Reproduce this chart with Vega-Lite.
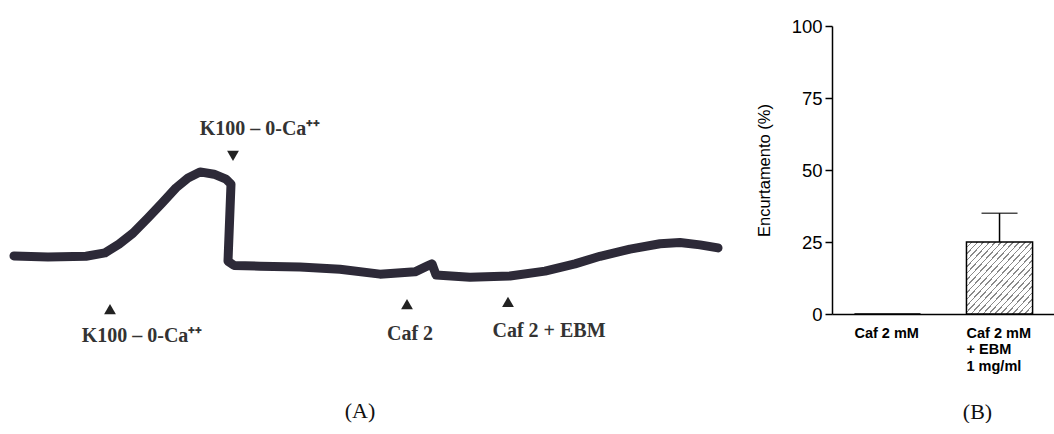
{
  "$schema": "https://vega.github.io/schema/vega-lite/v6.json",
  "background": "white",
  "padding": {"left": 0, "top": 17, "right": 0, "bottom": 0},
  "config": {"view": {"stroke": null}},
  "spacing": 16,
  "datasets": {
    "trace": [
      {"i": 1, "t": 0.7, "v": 37.4},
      {"i": 2, "t": 2.4, "v": 37.1},
      {"i": 3, "t": 4.3, "v": 37.3},
      {"i": 4, "t": 5.25, "v": 38.2},
      {"i": 5, "t": 5.95, "v": 40.5},
      {"i": 6, "t": 6.65, "v": 43.4},
      {"i": 7, "t": 7.4, "v": 47.4},
      {"i": 8, "t": 8.1, "v": 51.3},
      {"i": 9, "t": 8.8, "v": 55.3},
      {"i": 10, "t": 9.4, "v": 57.9},
      {"i": 11, "t": 10.0, "v": 59.5},
      {"i": 12, "t": 10.7, "v": 58.9},
      {"i": 13, "t": 11.3, "v": 57.6},
      {"i": 14, "t": 11.55, "v": 56.3},
      {"i": 15, "t": 11.4, "v": 36.0},
      {"i": 16, "t": 11.7, "v": 34.9},
      {"i": 17, "t": 13.0, "v": 34.7},
      {"i": 18, "t": 15.0, "v": 34.5},
      {"i": 19, "t": 17.0, "v": 33.9},
      {"i": 20, "t": 19.0, "v": 32.6},
      {"i": 21, "t": 20.75, "v": 33.2},
      {"i": 22, "t": 21.35, "v": 34.7},
      {"i": 23, "t": 21.6, "v": 35.3},
      {"i": 24, "t": 21.8, "v": 32.4},
      {"i": 25, "t": 23.5, "v": 31.8},
      {"i": 26, "t": 25.5, "v": 32.1},
      {"i": 27, "t": 27.25, "v": 33.4},
      {"i": 28, "t": 28.75, "v": 35.3},
      {"i": 29, "t": 30.0, "v": 37.3},
      {"i": 30, "t": 31.5, "v": 39.2},
      {"i": 31, "t": 33.0, "v": 40.6},
      {"i": 32, "t": 34.0, "v": 40.9},
      {"i": 33, "t": 35.0, "v": 40.3},
      {"i": 34, "t": 35.9, "v": 39.5}
    ],
    "markers": [
      {"t": 11.65, "v": 63.7, "dir": "down"},
      {"t": 5.5, "v": 23.4, "dir": "up"},
      {"t": 20.35, "v": 24.7, "dir": "up"},
      {"t": 25.4, "v": 25.3, "dir": "up"}
    ],
    "notes": [
      {"t": 13.0, "v": 70.8, "label": "K100 – 0-Ca⁺⁺"},
      {"t": 7.1, "v": 16.3, "label": "K100 – 0-Ca⁺⁺"},
      {"t": 20.5, "v": 16.8, "label": "Caf 2"},
      {"t": 27.45, "v": 17.6, "label": "Caf 2 + EBM"}
    ],
    "bars": [
      {"cond": "Caf 2 mM", "mean": 0, "upper": null},
      {"cond": "Caf 2 mM + EBM 1 mg/ml", "mean": 25, "upper": 35}
    ]
  },
  "hconcat": [
    {
      "width": 740,
      "height": 370,
      "title": {"text": "(A)", "orient": "bottom", "font": "Liberation Serif", "fontSize": 22, "fontWeight": "normal", "color": "#111", "dx": -10, "offset": 5},
      "layer": [
        {
          "data": {"name": "trace"},
          "mark": {"type": "line", "color": "#2d2a38", "strokeWidth": 9, "strokeCap": "round", "strokeJoin": "round"},
          "encoding": {
            "x": {"field": "t", "type": "quantitative", "scale": {"domain": [0, 37], "nice": false, "zero": false}, "axis": null},
            "y": {"field": "v", "type": "quantitative", "scale": {"domain": [0.53, 97.9], "nice": false, "zero": false}, "axis": null},
            "order": {"field": "i"}
          }
        },
        {
          "data": {"name": "markers"},
          "mark": {"type": "point", "filled": true, "color": "#222", "size": 140, "opacity": 1},
          "encoding": {
            "x": {"field": "t", "type": "quantitative"},
            "y": {"field": "v", "type": "quantitative"},
            "shape": {"field": "dir", "type": "nominal", "scale": {"domain": ["up", "down"], "range": ["triangle-up", "triangle-down"]}, "legend": null}
          }
        },
        {
          "data": {"name": "notes"},
          "mark": {"type": "text", "font": "Liberation Serif", "fontSize": 20, "fontWeight": "bold", "color": "#333", "baseline": "middle", "align": "center"},
          "encoding": {
            "x": {"field": "t", "type": "quantitative"},
            "y": {"field": "v", "type": "quantitative"},
            "text": {"field": "label"}
          }
        }
      ]
    },
    {
      "width": 223,
      "height": 288,
      "data": {"name": "bars"},
      "title": {"text": "(B)", "orient": "bottom", "font": "Liberation Serif", "fontSize": 22, "fontWeight": "normal", "color": "#111", "dx": 34, "offset": 29},
      "encoding": {
        "x": {
          "field": "cond", "type": "nominal", "sort": null,
          "scale": {"paddingInner": 0.41, "paddingOuter": 0.2},
          "axis": {
            "title": null, "ticks": false, "domainColor": "#000", "domainWidth": 1.5,
            "labelAngle": 0, "labelAlign": "left", "labelOffset": -33, "labelBaseline": "top",
            "labelPadding": 12, "labelFont": "Liberation Sans", "labelFontSize": 14.5, "labelFontWeight": "bold",
            "labelColor": "#000", "labelLineHeight": 16.5,
            "labelExpr": "datum.label == 'Caf 2 mM' ? datum.label : ['Caf 2 mM', '+ EBM', '1 mg/ml']"
          }
        }
      },
      "layer": [
        {
          "mark": {
            "type": "bar", "stroke": "#000", "strokeWidth": 1.5,
            "fill": {
              "x1": 0, "y1": 0, "x2": 1, "y2": 1, "gradient": "linear",
              "stops": [
                {"offset": 0.0, "color": "#ffffff"}, {"offset": 0.034, "color": "#ffffff"}, {"offset": 0.034, "color": "#8a8a8a"}, {"offset": 0.045, "color": "#8a8a8a"},
                {"offset": 0.045, "color": "#ffffff"}, {"offset": 0.079, "color": "#ffffff"}, {"offset": 0.079, "color": "#8a8a8a"}, {"offset": 0.090, "color": "#8a8a8a"},
                {"offset": 0.090, "color": "#ffffff"}, {"offset": 0.124, "color": "#ffffff"}, {"offset": 0.124, "color": "#8a8a8a"}, {"offset": 0.135, "color": "#8a8a8a"},
                {"offset": 0.135, "color": "#ffffff"}, {"offset": 0.169, "color": "#ffffff"}, {"offset": 0.169, "color": "#8a8a8a"}, {"offset": 0.180, "color": "#8a8a8a"},
                {"offset": 0.180, "color": "#ffffff"}, {"offset": 0.214, "color": "#ffffff"}, {"offset": 0.214, "color": "#8a8a8a"}, {"offset": 0.225, "color": "#8a8a8a"},
                {"offset": 0.225, "color": "#ffffff"}, {"offset": 0.259, "color": "#ffffff"}, {"offset": 0.259, "color": "#8a8a8a"}, {"offset": 0.270, "color": "#8a8a8a"},
                {"offset": 0.270, "color": "#ffffff"}, {"offset": 0.304, "color": "#ffffff"}, {"offset": 0.304, "color": "#8a8a8a"}, {"offset": 0.315, "color": "#8a8a8a"},
                {"offset": 0.315, "color": "#ffffff"}, {"offset": 0.349, "color": "#ffffff"}, {"offset": 0.349, "color": "#8a8a8a"}, {"offset": 0.360, "color": "#8a8a8a"},
                {"offset": 0.360, "color": "#ffffff"}, {"offset": 0.394, "color": "#ffffff"}, {"offset": 0.394, "color": "#8a8a8a"}, {"offset": 0.405, "color": "#8a8a8a"},
                {"offset": 0.405, "color": "#ffffff"}, {"offset": 0.439, "color": "#ffffff"}, {"offset": 0.439, "color": "#8a8a8a"}, {"offset": 0.450, "color": "#8a8a8a"},
                {"offset": 0.450, "color": "#ffffff"}, {"offset": 0.484, "color": "#ffffff"}, {"offset": 0.484, "color": "#8a8a8a"}, {"offset": 0.495, "color": "#8a8a8a"},
                {"offset": 0.495, "color": "#ffffff"}, {"offset": 0.529, "color": "#ffffff"}, {"offset": 0.529, "color": "#8a8a8a"}, {"offset": 0.540, "color": "#8a8a8a"},
                {"offset": 0.540, "color": "#ffffff"}, {"offset": 0.574, "color": "#ffffff"}, {"offset": 0.574, "color": "#8a8a8a"}, {"offset": 0.585, "color": "#8a8a8a"},
                {"offset": 0.585, "color": "#ffffff"}, {"offset": 0.619, "color": "#ffffff"}, {"offset": 0.619, "color": "#8a8a8a"}, {"offset": 0.630, "color": "#8a8a8a"},
                {"offset": 0.630, "color": "#ffffff"}, {"offset": 0.664, "color": "#ffffff"}, {"offset": 0.664, "color": "#8a8a8a"}, {"offset": 0.675, "color": "#8a8a8a"},
                {"offset": 0.675, "color": "#ffffff"}, {"offset": 0.709, "color": "#ffffff"}, {"offset": 0.709, "color": "#8a8a8a"}, {"offset": 0.720, "color": "#8a8a8a"},
                {"offset": 0.720, "color": "#ffffff"}, {"offset": 0.754, "color": "#ffffff"}, {"offset": 0.754, "color": "#8a8a8a"}, {"offset": 0.765, "color": "#8a8a8a"},
                {"offset": 0.765, "color": "#ffffff"}, {"offset": 0.799, "color": "#ffffff"}, {"offset": 0.799, "color": "#8a8a8a"}, {"offset": 0.810, "color": "#8a8a8a"},
                {"offset": 0.810, "color": "#ffffff"}, {"offset": 0.844, "color": "#ffffff"}, {"offset": 0.844, "color": "#8a8a8a"}, {"offset": 0.855, "color": "#8a8a8a"},
                {"offset": 0.855, "color": "#ffffff"}, {"offset": 0.889, "color": "#ffffff"}, {"offset": 0.889, "color": "#8a8a8a"}, {"offset": 0.900, "color": "#8a8a8a"},
                {"offset": 0.900, "color": "#ffffff"}, {"offset": 0.934, "color": "#ffffff"}, {"offset": 0.934, "color": "#8a8a8a"}, {"offset": 0.945, "color": "#8a8a8a"},
                {"offset": 0.945, "color": "#ffffff"}, {"offset": 0.979, "color": "#ffffff"}, {"offset": 0.979, "color": "#8a8a8a"}, {"offset": 0.990, "color": "#8a8a8a"},
                {"offset": 0.990, "color": "#ffffff"}, {"offset": 1.0, "color": "#ffffff"}
              ]
            }
          },
          "encoding": {
            "y": {
              "field": "mean", "type": "quantitative",
              "scale": {"domain": [0, 100]},
              "axis": {
                "values": [0, 25, 50, 75, 100], "grid": false, "tickColor": "#000", "tickSize": 7, "tickWidth": 1.5,
                "domainColor": "#000", "domainWidth": 1.5, "labelColor": "#000", "labelFont": "Liberation Sans",
                "labelFontSize": 18.5, "labelPadding": 3,
                "title": "Encurtamento (%)", "titleFont": "Liberation Sans", "titleFontSize": 16.5, "titleFontWeight": "normal",
                "titleColor": "#000", "titlePadding": 19
              }
            }
          }
        },
        {
          "mark": {"type": "rule", "color": "#000", "strokeWidth": 1.5},
          "encoding": {
            "y": {"field": "mean", "type": "quantitative"},
            "y2": {"field": "upper"}
          }
        },
        {
          "mark": {"type": "tick", "color": "#000", "thickness": 1.5, "size": 36, "orient": "horizontal"},
          "encoding": {
            "y": {"field": "upper", "type": "quantitative"}
          }
        }
      ]
    }
  ]
}
